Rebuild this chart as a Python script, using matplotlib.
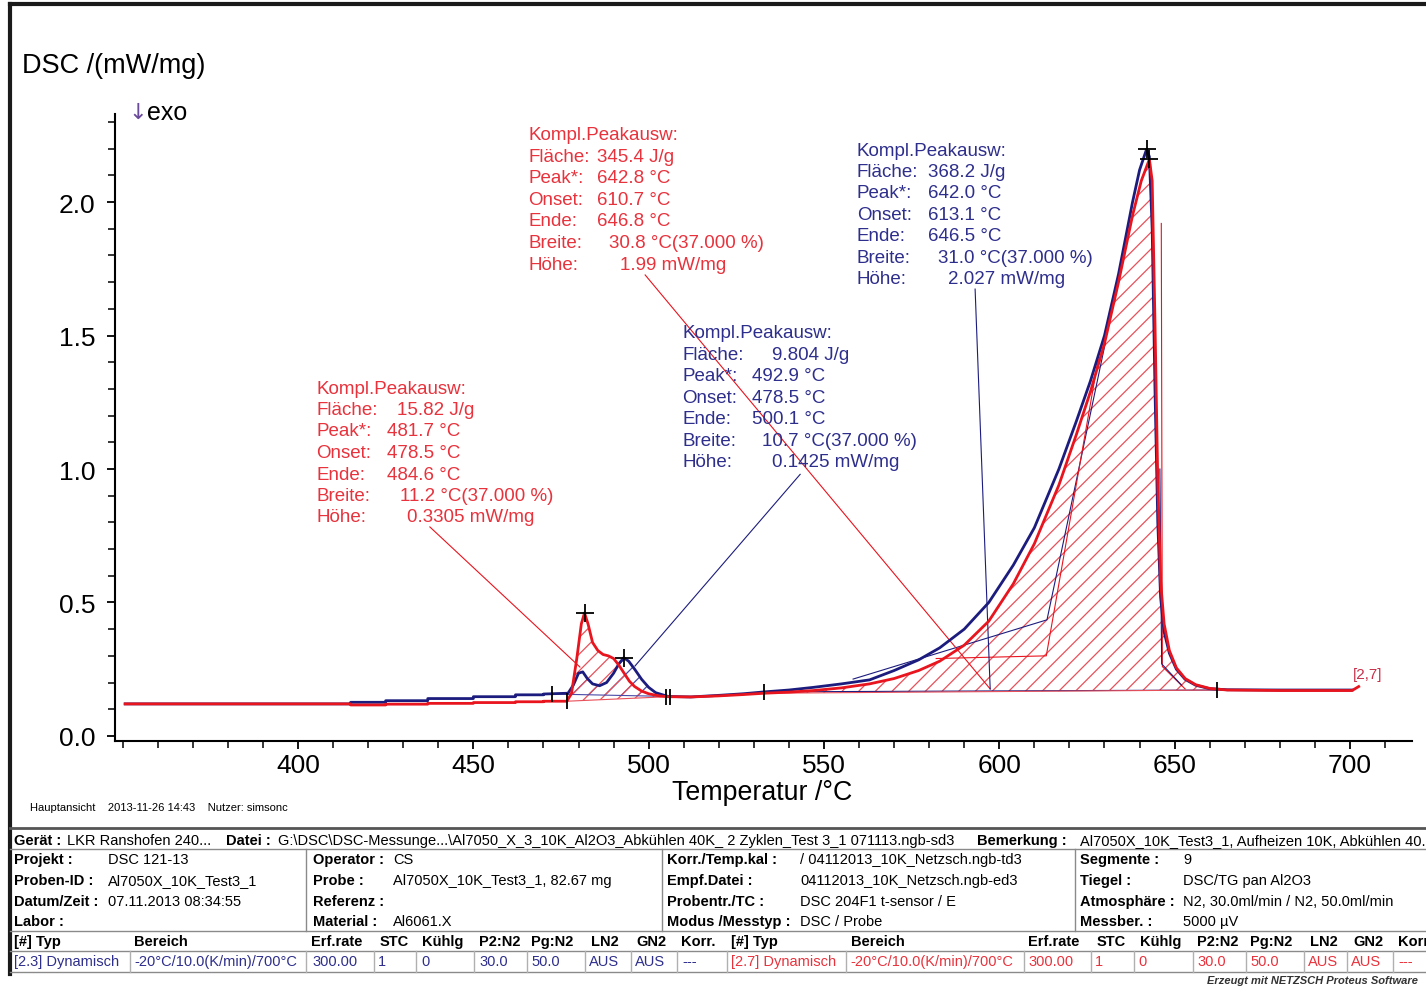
import numpy as np
import matplotlib
matplotlib.use("Agg")
import matplotlib.pyplot as plt
from matplotlib.lines import Line2D

plt.rcParams['font.family'] = ['Liberation Sans', 'DejaVu Sans']
plt.rcParams['hatch.linewidth'] = 0.9

W, H = 1426, 987
RED = '#e8141e'
NAVY = '#1c1c7e'
RED_TXT = '#e8323c'
NAVY_TXT = '#2e2e8c'

# ---- DSC curves: temperature (°C) and heat flow (mW/mg) ----
red_T = [350.7, 415, 415, 425, 425, 437, 437, 450, 450, 462, 462, 470, 470, 476.7,
         478, 479.5, 480.8, 481.7, 482.7, 484, 485.5, 487, 488.5, 490, 491.5, 493,
         494.5, 496, 498, 500, 503, 505.5, 512, 520, 527, 533, 540, 547, 555, 563,
         570, 577, 583, 590, 597, 604, 610, 617, 622, 626, 630, 634, 638, 640.5,
         642.8, 643.6, 644.4, 645.2, 646, 647, 648.5, 650.5, 653, 656, 660, 665,
         680, 700.6, 702.5]
red_dsc = [0.120, 0.120, 0.116, 0.116, 0.119, 0.119, 0.122, 0.122, 0.125, 0.125,
           0.128, 0.128, 0.130, 0.130,
           0.16, 0.29, 0.42, 0.461, 0.42, 0.35, 0.32, 0.305, 0.30, 0.29, 0.265, 0.235,
           0.205, 0.185, 0.168, 0.158, 0.150, 0.147, 0.146, 0.150, 0.155, 0.160, 0.164,
           0.170, 0.180, 0.195, 0.215, 0.245, 0.28, 0.34, 0.43, 0.57, 0.72, 0.94, 1.13,
           1.29, 1.47, 1.70, 1.95, 2.08, 2.160, 2.08, 1.55, 0.95, 0.58, 0.42, 0.32,
           0.255, 0.215, 0.192, 0.178, 0.172, 0.170, 0.170, 0.185]

blue_T = [350.7, 415, 415, 425, 425, 437, 437, 450, 450, 462, 462, 470, 470, 477,
          478.5, 480, 481.2, 482.5, 484, 486, 488, 490, 491.5, 492.9, 494.3, 496, 498,
          500, 502, 505.5, 512, 520, 527, 533, 540, 547, 555, 563, 570, 577, 583, 590,
          597, 604, 610, 617, 622, 626, 630, 634, 638, 640, 642.0, 642.8, 643.6, 644.4,
          645.2, 646, 647, 648.5, 650.5, 653, 656, 660, 665, 680, 700.6]
blue_dsc = [0.120, 0.120, 0.126, 0.126, 0.132, 0.132, 0.140, 0.140, 0.147, 0.147,
            0.154, 0.154, 0.157, 0.160,
            0.19, 0.235, 0.24, 0.215, 0.195, 0.188, 0.20, 0.235, 0.27, 0.293, 0.28, 0.25,
            0.212, 0.182, 0.162, 0.148, 0.146, 0.152, 0.158, 0.165, 0.172, 0.182, 0.195,
            0.21, 0.245, 0.285, 0.33, 0.40, 0.50, 0.64, 0.78, 1.00, 1.18, 1.33, 1.50,
            1.73, 2.00, 2.12, 2.198, 2.17, 1.90, 1.30, 0.80, 0.52, 0.39, 0.31, 0.25,
            0.212, 0.19, 0.177, 0.173, 0.172, 0.172]

# ---- peak evaluation baselines (start / end points) ----
red_small_base_T = [476.7, 505.5]
red_small_base_y = [0.130, 0.147]
blue_small_base_T = [472.4, 505.5]
blue_small_base_y = [0.157, 0.148]
red_big_base_T = [533.0, 662.0]
red_big_base_y = [0.160, 0.172]
blue_big_base_T = [533.0, 662.0]
blue_big_base_y = [0.165, 0.172]

# ---- peak positions ----
peak_T = [481.7, 492.9, 642.0, 642.8]
peak_y = [0.461, 0.293, 2.198, 2.160]
limit_T = [472.4, 476.7, 505.0, 506.2, 533.0, 662.0]
limit_y = [0.157, 0.130, 0.147, 0.147, 0.163, 0.172]

# ---- construction lines of the main peak ----
blue_tangent_T = [558.3, 613.6, 630.2]
blue_tangent_y = [0.213, 0.435, 1.47]
red_tangent_T = [582.0, 613.4, 628.2]
red_tangent_y = [0.29, 0.30, 1.41]
red_end_T = [646.2, 646.5, 653.0]
red_end_y = [1.92, 0.26, 0.176]
blue_end_T = [645.8, 646.3, 652.0]
blue_end_y = [1.00, 0.27, 0.19]

# ---- peak evaluation results ----
result_labels = ["Fläche:", "Peak*:", "Onset:", "Ende:", "Breite:", "Höhe:"]
red_small_vals = ["15.82 J/g", "481.7 °C", "478.5 °C", "484.6 °C", "11.2 °C(37.000 %)", "0.3305 mW/mg"]
red_big_vals = ["345.4 J/g", "642.8 °C", "610.7 °C", "646.8 °C", "30.8 °C(37.000 %)", "1.99 mW/mg"]
blue_small_vals = ["9.804 J/g", "492.9 °C", "478.5 °C", "500.1 °C", "10.7 °C(37.000 %)", "0.1425 mW/mg"]
blue_big_vals = ["368.2 J/g", "642.0 °C", "613.1 °C", "646.5 °C", "31.0 °C(37.000 %)", "2.027 mW/mg"]

x_major = [400, 450, 500, 550, 600, 650, 700]
y_major = [0.0, 0.5, 1.0, 1.5, 2.0]


def ftext(x, y, s, **kw):
    kw.setdefault('va', 'center')
    return fig.text(x / W, 1 - y / H, s, **kw)


def fline(xs, ys, **kw):
    fig.add_artist(Line2D([x / W for x in xs], [1 - y / H for y in ys],
                          transform=fig.transFigure, **kw))


fig = plt.figure(figsize=(W / 100, H / 100), dpi=100)
ax = fig.add_axes([115 / W, 1 - 742 / H, (1412 - 115) / W, (742 - 115) / H])
ax.set_xlim(347.8, 717.7)
ax.set_ylim(-0.019, 2.33)

# hatched peak areas
def hatch_area(T, y, bT, by, color):
    T = np.asarray(T)
    y = np.asarray(y)
    m = (T >= bT[0]) & (T <= bT[1])
    tt = np.concatenate([[bT[0]], T[m], [bT[1]]])
    yy = np.concatenate([[by[0]], y[m], [by[1]]])
    base = np.interp(tt, bT, by)
    ax.fill_between(tt, base, yy, facecolor='none', edgecolor=color,
                    hatch='//', linewidth=0, zorder=1)
    ax.plot(bT, by, color=color, lw=0.8, zorder=2)

hatch_area(blue_T, blue_dsc, blue_small_base_T, blue_small_base_y, '#4a4aa8')
hatch_area(red_T, red_dsc, red_small_base_T, red_small_base_y, '#e8505a')
ax.plot(blue_big_base_T, blue_big_base_y, color=NAVY, lw=0.8, zorder=2)
hatch_area(red_T, red_dsc, red_big_base_T, red_big_base_y, '#e8505a')

# construction lines
ax.plot(blue_tangent_T, blue_tangent_y, color=NAVY, lw=0.8, zorder=2)
ax.plot(red_tangent_T, red_tangent_y, color=RED, lw=0.8, zorder=2)
ax.plot(red_end_T, red_end_y, color=RED, lw=0.8, zorder=2)
ax.plot(blue_end_T, blue_end_y, color=NAVY, lw=0.8, zorder=2)

# curves
ax.plot(blue_T, blue_dsc, color=NAVY, lw=2.0, zorder=3)
ax.plot(red_T, red_dsc, color=RED, lw=2.0, zorder=4)

# peak and limit markers
ax.plot(peak_T, peak_y, ls='none', marker='+', ms=13, mew=1.3, color='black', zorder=5)
ax.plot(limit_T, limit_y, ls='none', marker='|', ms=12, mew=1.3, color='black', zorder=5)

# leader lines from the result blocks
ax.plot([499.0, 597.4], [1.727, 0.176], color=RED, lw=0.8, zorder=2)
ax.plot([593.1, 597.4], [1.674, 0.176], color=NAVY, lw=0.8, zorder=2)
ax.plot([437.6, 480.4], [0.783, 0.258], color=RED, lw=0.8, zorder=2)
ax.plot([543.2, 496.1], [0.980, 0.262], color=NAVY, lw=0.8, zorder=2)

ax.text(700.8, 0.232, "[2,7]", color='#c8304a', fontsize=11, va='center', ha='left')

# axes styling
for s in ('top', 'right'):
    ax.spines[s].set_visible(False)
for s in ('left', 'bottom'):
    ax.spines[s].set_linewidth(1.5)
ax.set_xticks(x_major)
ax.set_xticks(np.arange(350, 720, 10), minor=True)
ax.set_yticks(y_major)
ax.set_yticks(np.arange(0.0, 2.35, 0.1), minor=True)
ax.set_yticklabels([f"{v:.1f}" for v in y_major])
ax.tick_params(which='major', direction='out', length=6, width=1.3, labelsize=19)
ax.tick_params(which='minor', direction='out', length=5, width=1.1)
ax.tick_params(axis='y', pad=8)
ax.tick_params(axis='x', pad=3)

# axis titles
ftext(22, 66, "DSC /(mW/mg)", fontsize=19.5, ha='left')
ftext(762, 793, "Temperatur /°C", fontsize=19.3, ha='center')
ftext(128, 113, "↓", fontsize=16, ha='left', color='#6a4a9a', family='DejaVu Sans')
ftext(147, 113, "exo", fontsize=18, ha='left')


def result_block(x0, y0, vals, offsets, color):
    ftext(x0, y0, "Kompl.Peakausw:", fontsize=13.5, ha='left', color=color)
    for i, (lab, val) in enumerate(zip(result_labels, vals)):
        yy = y0 + 21.5 * (i + 1)
        ftext(x0, yy, lab, fontsize=13.5, ha='left', color=color)
        ftext(x0 + offsets[i], yy, val, fontsize=13.5, ha='left', color=color)


result_block(528, 136, red_big_vals, [69, 69, 69, 69, 81, 92], RED_TXT)
result_block(857, 151, blue_big_vals, [71, 71, 71, 71, 81, 91], NAVY_TXT)
result_block(682, 334, blue_small_vals, [90, 70, 70, 70, 80, 90], NAVY_TXT)
result_block(316, 389, red_small_vals, [81, 71, 71, 71, 84, 91], RED_TXT)

ftext(30, 808, "Hauptansicht    2013-11-26 14:43    Nutzer: simsonc", fontsize=8, ha='left')

# ---- frame ----
fline([10, W], [5, 5], color='#1a1a1a', lw=3)
fline([10, 10], [5, 975], color='#1a1a1a', lw=3)
fline([10, W], [829, 829], color='#555555', lw=2)
gray = '#8a8a8a'
for yy in (850, 932, 952, 973):
    fline([10, W], [yy, yy], color=gray, lw=1)
for xx in (306, 662, 1075):
    fline([xx, xx], [850, 932], color=gray, lw=1)
for xx in (130, 306, 374, 416, 474, 527, 585, 631, 677, 727, 846, 1024, 1091, 1134,
           1193, 1246, 1304, 1347, 1393):
    fline([xx, xx], [952, 973], color='#b0b0b0', lw=1)

TS = 10.5
def cell(x, y, s, bold=False, color='black', size=TS):
    ftext(x, y, s, fontsize=size, ha='left', color=color,
          fontweight='bold' if bold else 'normal')

cell(14, 841, "Gerät :", True)
cell(67, 841, "LKR Ranshofen 240...")
cell(226, 841, "Datei :", True)
cell(278, 841, "G:\\DSC\\DSC-Messunge...\\Al7050_X_3_10K_Al2O3_Abkühlen 40K_ 2 Zyklen_Test 3_1 071113.ngb-sd3", size=10.5)
cell(977, 841, "Bemerkung :", True)
cell(1080, 841, "Al7050X_10K_Test3_1, Aufheizen 10K, Abkühlen 40...")

rows_y = [860, 881, 902, 922]
col1 = [("Projekt :", "DSC 121-13"), ("Proben-ID :", "Al7050X_10K_Test3_1"),
        ("Datum/Zeit :", "07.11.2013 08:34:55"), ("Labor :", "")]
col2 = [("Operator :", "CS"), ("Probe :", "Al7050X_10K_Test3_1, 82.67 mg"),
        ("Referenz :", ""), ("Material :", "Al6061.X")]
col3 = [("Korr./Temp.kal :", "/ 04112013_10K_Netzsch.ngb-td3"),
        ("Empf.Datei :", "04112013_10K_Netzsch.ngb-ed3"),
        ("Probentr./TC :", "DSC 204F1 t-sensor / E"), ("Modus /Messtyp :", "DSC / Probe")]
col4 = [("Segmente :", "9"), ("Tiegel :", "DSC/TG pan Al2O3"),
        ("Atmosphäre :", "N2, 30.0ml/min / N2, 50.0ml/min"), ("Messber. :", "5000 µV")]
for (cx, vx, col) in ((14, 108, col1), (313, 393, col2), (667, 800, col3), (1080, 1183, col4)):
    for yy, (lab, val) in zip(rows_y, col):
        cell(cx, yy, lab, True)
        if val:
            cell(vx, yy, val)

hdr = ["[#] Typ", "Bereich", "Erf.rate", "STC", "Kühlg", "P2:N2", "Pg:N2", "LN2", "GN2"]
hdr_x1 = [14, 134, 311, 380, 422, 479, 531, 591, 636]
hdr_x2 = [731, 851, 1028, 1097, 1140, 1197, 1250, 1310, 1353]
for s, x1, x2 in zip(hdr, hdr_x1, hdr_x2):
    cell(x1, 942, s, True)
    cell(x2, 942, s, True)
cell(681, 942, "Korr.", True)
cell(1398, 942, "Korr", True)

seg_vals = ["Dynamisch", "-20°C/10.0(K/min)/700°C", "300.00", "1", "0", "30.0", "50.0", "AUS", "AUS", "---"]
seg_x1 = [134, 312, 378, 421, 479, 531, 589, 635, 682]
seg_x2 = [850, 1028, 1095, 1138, 1197, 1250, 1308, 1351, 1398]
cell(14, 962, "[2.3] Dynamisch", color=NAVY_TXT)
cell(731, 962, "[2.7] Dynamisch", color=RED_TXT)
for s, x1, x2 in zip(seg_vals[1:], seg_x1, seg_x2):
    cell(x1, 962, s, color=NAVY_TXT)
    cell(x2, 962, s, color=RED_TXT)

ftext(1207, 981, "Erzeugt mit NETZSCH Proteus Software", fontsize=8, ha='left',
      fontweight='bold', fontstyle='italic', color='#333333')

fig.savefig("out.png", dpi=100)
